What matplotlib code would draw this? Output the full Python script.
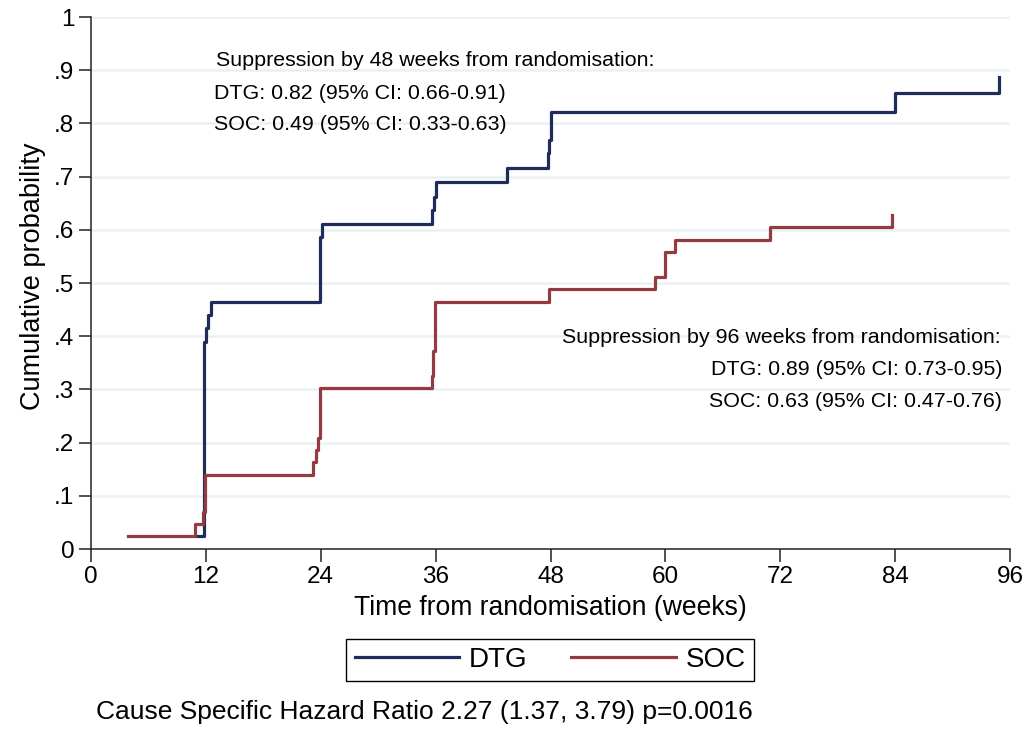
import matplotlib
matplotlib.use("Agg")
import matplotlib.pyplot as plt

plt.rcParams["font.family"] = ["Liberation Sans", "DejaVu Sans"]

# Cumulative probability of suppression by arm (step functions)
dtg_weeks = [11.1, 11.8, 12.0, 12.2, 12.5, 23.9, 24.1, 35.6, 35.8, 36.0,
             43.5, 47.7, 47.8, 48.0, 84.0, 94.9]
dtg_prob = [0.024, 0.390, 0.415, 0.440, 0.464, 0.587, 0.611, 0.637, 0.662,
            0.690, 0.716, 0.744, 0.769, 0.822, 0.857, 0.887]

soc_weeks = [3.9, 10.9, 11.7, 11.9, 23.2, 23.5, 23.7, 23.9, 35.6, 35.7,
             35.95, 47.8, 58.9, 60.0, 61.0, 70.9, 83.7]
soc_prob = [0.024, 0.047, 0.070, 0.140, 0.163, 0.186, 0.209, 0.302, 0.326,
            0.372, 0.465, 0.488, 0.512, 0.558, 0.581, 0.605, 0.628]

x_ticks = [0, 12, 24, 36, 48, 60, 72, 84, 96]
y_ticks = [0, 0.1, 0.2, 0.3, 0.4, 0.5, 0.6, 0.7, 0.8, 0.9, 1.0]
y_tick_labels = ["0", ".1", ".2", ".3", ".4", ".5", ".6", ".7", ".8", ".9", "1"]

arm_labels = ["DTG", "SOC"]
arm_colors = ["#1f2d5b", "#943a41"]

notes_48 = ["Suppression by 48 weeks from randomisation:",
            "DTG: 0.82 (95% CI: 0.66-0.91)",
            "SOC: 0.49 (95% CI: 0.33-0.63)"]
notes_96 = ["Suppression by 96 weeks from randomisation:",
            "DTG: 0.89 (95% CI: 0.73-0.95)",
            "SOC: 0.63 (95% CI: 0.47-0.76)"]
caption = "Cause Specific Hazard Ratio 2.27 (1.37, 3.79) p=0.0016"

fig = plt.figure(figsize=(10.28, 7.29), dpi=100)
ax = fig.add_axes([91 / 1028, 1 - 549 / 729, (1010 - 91) / 1028, (549 - 17) / 729])

for y in y_ticks[1:]:
    ax.axhline(y, color="#eaf1f3", lw=1.8, zorder=0)

ax.step(dtg_weeks, dtg_prob, where="post", color=arm_colors[0], lw=2.3,
        label=arm_labels[0], zorder=3)
ax.step(soc_weeks, soc_prob, where="post", color=arm_colors[1], lw=2.3,
        label=arm_labels[1], zorder=3)

ax.set_xlim(0, 96)
ax.set_ylim(0, 1)
ax.set_xticks(x_ticks)
ax.set_xticklabels([str(t) for t in x_ticks])
ax.set_yticks(y_ticks)
ax.set_yticklabels(y_tick_labels)
ax.tick_params(axis="both", labelsize=17.5, length=9, width=1.1, color="#222222")
ax.tick_params(axis="x", pad=3)
ax.tick_params(axis="y", pad=3)
for side in ("top", "right"):
    ax.spines[side].set_visible(False)
for side in ("left", "bottom"):
    ax.spines[side].set_linewidth(1.1)
    ax.spines[side].set_color("#222222")

ax.set_xlabel("Time from randomisation (weeks)", fontsize=19.1)
ax.xaxis.set_label_coords(0.5, -0.086)
ax.set_ylabel("Cumulative probability", fontsize=19.5)
ax.yaxis.set_label_coords(-0.049, 0.513)

ax.text(13.1, 0.919, notes_48[0], fontsize=15.4, ha="left", va="center")
ax.text(12.8, 0.857, notes_48[1], fontsize=15.4, ha="left", va="center")
ax.text(12.8, 0.797, notes_48[2], fontsize=15.4, ha="left", va="center")

ax.text(95.0, 0.397, notes_96[0], fontsize=15.4, ha="right", va="center")
ax.text(95.2, 0.338, notes_96[1], fontsize=15.4, ha="right", va="center")
ax.text(95.2, 0.278, notes_96[2], fontsize=15.4, ha="right", va="center")

handles, labels = ax.get_legend_handles_labels()
leg = fig.legend(handles, labels, loc="center", bbox_to_anchor=(550 / 1028, 1 - 660 / 729),
                 ncol=2, fontsize=20, frameon=True, fancybox=False, framealpha=1,
                 edgecolor="black", handlelength=3.75, handletextpad=0.35,
                 columnspacing=1.6, borderpad=0.3)
leg.get_frame().set_linewidth(1.0)

fig.text(96 / 1028, 1 - 712 / 729, caption, fontsize=19, ha="left", va="center")

fig.savefig("out.png", dpi=100)
